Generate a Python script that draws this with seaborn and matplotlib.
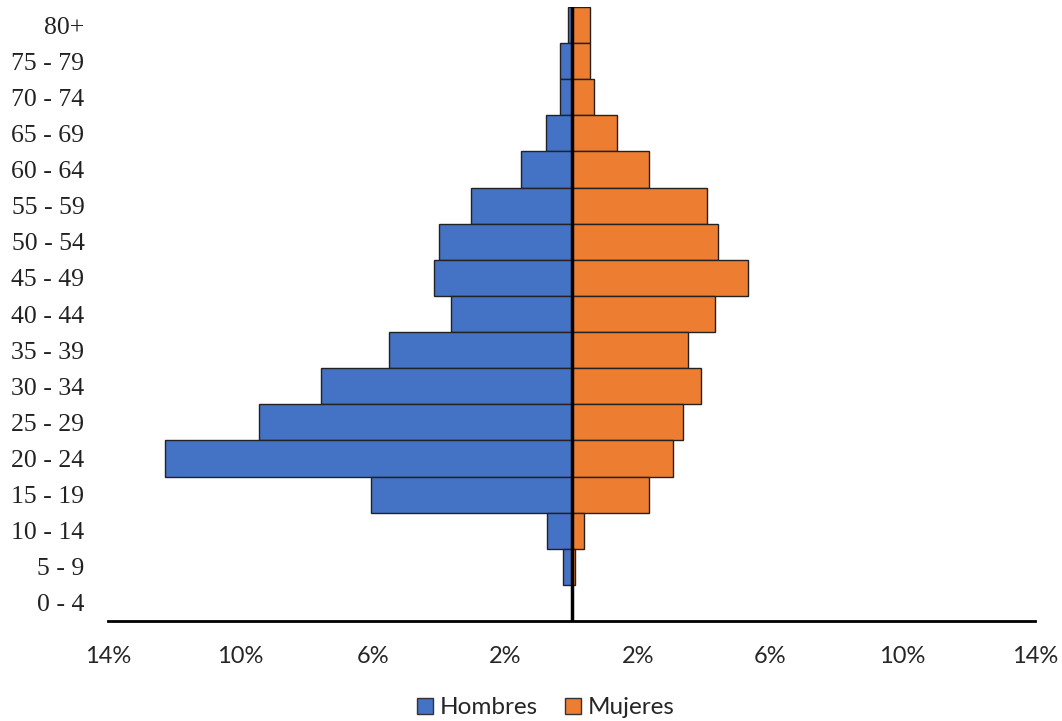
import numpy as np
import pandas as pd
import matplotlib
matplotlib.use("Agg")
import matplotlib.pyplot as plt
import seaborn as sns
from matplotlib.patches import Patch

sns.set_style("white")

age_groups = ["80+", "75 - 79", "70 - 74", "65 - 69", "60 - 64", "55 - 59",
              "50 - 54", "45 - 49", "40 - 44", "35 - 39", "30 - 34", "25 - 29",
              "20 - 24", "15 - 19", "10 - 14", "5 - 9", "0 - 4"]
hombres = [0.11, 0.35, 0.35, 0.78, 1.54, 3.05, 3.99, 4.14, 3.63, 5.50, 7.58,
           9.43, 12.29, 6.07, 0.75, 0.27, 0.0]
mujeres = [0.56, 0.56, 0.69, 1.38, 2.33, 4.08, 4.44, 5.32, 4.32, 3.53, 3.90,
           3.38, 3.08, 2.33, 0.37, 0.10, 0.0]
x_ticks = [-14, -10, -6, -2, 2, 6, 10, 14]

blue = "#4472C4"
orange = "#ED7D31"

df = pd.concat([
    pd.DataFrame({"Edad": age_groups, "Pct": [-v for v in hombres], "Sexo": "Hombres"}),
    pd.DataFrame({"Edad": age_groups, "Pct": mujeres, "Sexo": "Mujeres"}),
])

fig = plt.figure(figsize=(10.62, 7.21), dpi=100)
ax = fig.add_axes([108 / 1062, 1 - 621 / 721, 927 / 1062, 614 / 721])

sns.barplot(data=df, y="Edad", x="Pct", hue="Sexo", order=age_groups,
            palette={"Hombres": blue, "Mujeres": orange}, dodge=False,
            width=1.0, saturation=1, edgecolor="#222222", linewidth=1.0,
            orient="h", legend=False, ax=ax)

ax.set_xlim(-14, 14)
ax.set_ylim(len(age_groups) - 0.5, -0.5)
ax.axvline(0, color="black", linewidth=2.5, zorder=5)

ax.set_xticks(x_ticks)
ax.set_xticklabels([f"{abs(t)}%" for t in x_ticks], fontfamily="Lato", fontsize=17)
ax.tick_params(axis="x", length=0, pad=18)
ax.tick_params(axis="y", length=0, pad=17)
for lbl in ax.get_yticklabels():
    lbl.set_fontfamily("Liberation Serif")
    lbl.set_fontsize(18.5)
    lbl.set_color("#222222")
ax.set_xlabel("")
ax.set_ylabel("")

for side in ["top", "right", "left"]:
    ax.spines[side].set_visible(False)
ax.spines["bottom"].set_color("black")
ax.spines["bottom"].set_linewidth(2)

handles = [Patch(facecolor=blue, edgecolor="#333333", label="Hombres"),
           Patch(facecolor=orange, edgecolor="#333333", label="Mujeres")]
fig.legend(handles=handles, loc="center", bbox_to_anchor=(546 / 1062, 1 - 708 / 721),
           ncol=2, frameon=False, prop={"family": "Lato", "size": 17.5},
           handlelength=0.65, handleheight=0.65, handletextpad=0.3, columnspacing=1.1)

fig.savefig("out.png", dpi=100)
